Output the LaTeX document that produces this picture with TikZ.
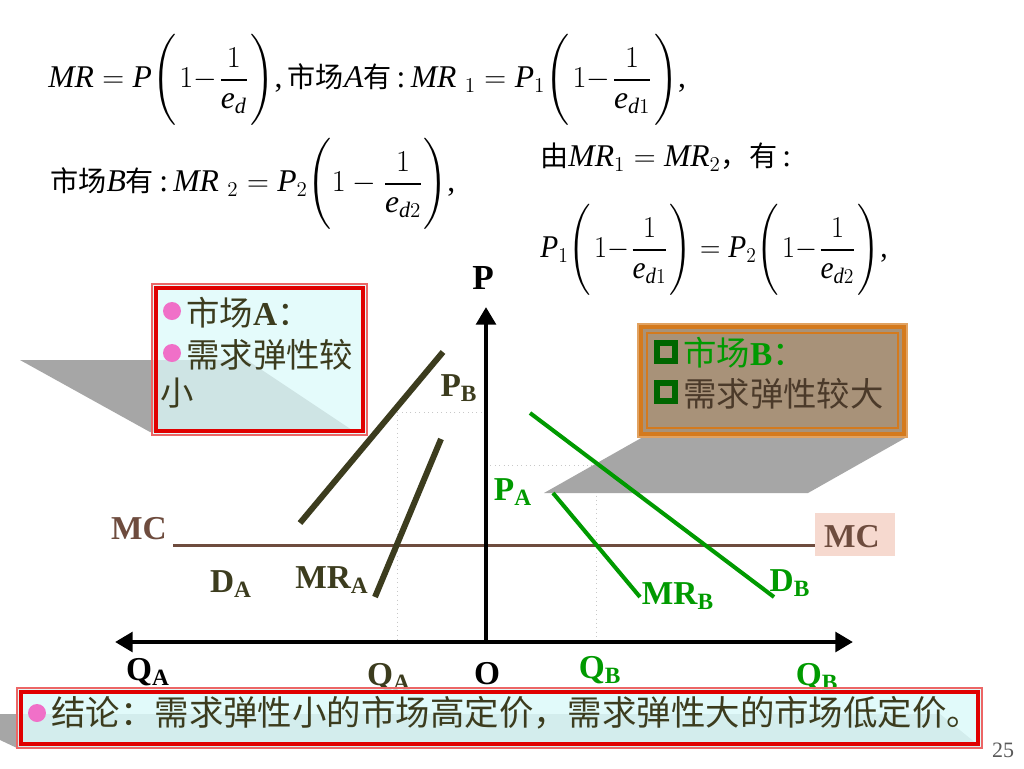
\documentclass[tikz,border=0pt]{standalone}
\usepackage{amsmath}
\usepackage{graphicx}
\usepackage{fontspec}
\setmainfont{Liberation Serif}
\newfontfamily\cjk{Noto Sans CJK SC}
\usetikzlibrary{arrows.meta}
\definecolor{darkol}{HTML}{3C3C1E}
\definecolor{grn}{HTML}{009A00}
\definecolor{dgrn}{HTML}{006600}
\definecolor{mcbrown}{HTML}{6E4C3E}
\definecolor{cyanfill}{HTML}{DCFAFA}
\definecolor{tanfill}{HTML}{A89279}
\definecolor{orangeb}{HTML}{D47A1E}
\definecolor{pinkbul}{HTML}{F070C8}
\definecolor{mcbg}{HTML}{F6D9CF}
\definecolor{shgray}{HTML}{A6A6A6}
\definecolor{boxred}{HTML}{E00000}
\definecolor{txtbrown}{HTML}{4B3A2A}
\definecolor{guidegray}{HTML}{C8C8C8}
\newcommand{\cz}[1]{{\cjk\fontsize{16}{16}\selectfont #1}}
\newcommand{\fr}[1]{\Bigg(1-\dfrac{1}{#1}\Bigg)}
\newcommand{\frt}[1]{\Bigg(\mkern2mu 1{-}\mkern1mu\dfrac{1}{#1}\mkern1mu\Bigg)}
\tikzset{
  lab/.style={font=\fontsize{19}{22}\selectfont\bfseries, inner sep=0pt},
  eqn/.style={font=\fontsize{18}{22}\selectfont, inner sep=0pt, anchor=west},
  boxtxt/.style={font=\cjk\fontsize{19}{22}\selectfont, inner sep=0pt, anchor=west},
  curveA/.style={draw=darkol, line width=3.4pt},
  curveB/.style={draw=grn, line width=2.3pt},
  guide/.style={draw=guidegray, dotted, line width=0.5pt},
  axisline/.style={line width=2.8pt, draw=black},
  bullet/.style={circle, fill=pinkbul, minimum size=0.36cm, inner sep=0pt},
  sqbullet/.style={draw=dgrn, line width=3pt, minimum size=0.36cm, inner sep=0pt},
  shadow/.style={fill=shgray, draw=none},
}
\begin{document}
\begin{tikzpicture}[x=0.02cm,y=-0.02cm]
\useasboundingbox[fill=white] (0,0) rectangle (1024,768);

% ---------- equations ----------
\node[eqn] (eq1) at (48,80) {$\mathit{MR}=\mathit{P}\frt{\mathit{e}_{\mathit{d}}}$,\,\cz{市场}$\mathit{A}$\cz{有}\,:\,$\mathit{MR}\;{}_{1}=\mathit{P}_{1}\frt{\mathit{e}_{\mathit{d}1}}$,};
\node[eqn] (eq2) at (50,184) {\cz{市场}$\mathit{B}$\cz{有}\,:\,$\mathit{MR}\;{}_{2}=\mathit{P}_{2}\fr{\mathit{e}_{\mathit{d}2}}$,};
\node[eqn] (eq3) at (540,157) {\cz{由}$\mathit{MR}_{1}=\mathit{MR}_{2}$\cz{，有}\,:};
\node[eqn] (eq4) at (540,250) {\scalebox{0.93}[1]{$\mathit{P}_{1}\frt{\mathit{e}_{\mathit{d}1}}=\mathit{P}_{2}\frt{\mathit{e}_{\mathit{d}2}}$,}};

% ---------- guides ----------
\coordinate (gA1) at (397,412);
\coordinate (gA2) at (397,642);
\coordinate (gA3) at (486,412);
\coordinate (gB1) at (596,465);
\coordinate (gB2) at (596,642);
\coordinate (gB3) at (486,465);
\draw[guide] (gA3) -- (gA1) -- (gA2);
\draw[guide] (gB3) -- (gB1) -- (gB2);

% ---------- shadows ----------
\fill[shadow] (20,360) -- (247,360) -- (355,432) -- (150,432) -- cycle;
\fill[shadow] (643,437) -- (907,437) -- (808,493) -- (544,493) -- cycle;
\fill[shadow] (-55,714) -- (940,714) -- (982,748) -- (17,748) -- cycle;

% ---------- box A ----------
\fill[cyanfill, fill opacity=0.75] (152,284) rectangle (367,435);
\draw[boxred!60, line width=0.6pt] (152,284) rectangle (367,435);
\draw[boxred, line width=2.4pt] (156,288) rectangle (363,431);
\node[bullet] (bA1) at (172,311) {};
\node[boxtxt, text=darkol] (tA1) at (186,313) {市场\textbf{\rmfamily A}：};
\node[bullet] (bA2) at (172,353) {};
\node[boxtxt, text=darkol] (tA2) at (186,355) {需求弹性较};
\node[boxtxt, text=darkol] (tA3) at (160,393) {小};

% ---------- box B ----------
\fill[tanfill] (638,324) rectangle (907,437);
\draw[orangeb!70, line width=0.6pt] (638,324) rectangle (907,437);
\draw[orangeb, line width=1.8pt] (641,327) rectangle (904,434);
\draw[orangeb, line width=0.7pt] (647,333) rectangle (898,428);
\node[sqbullet] (sB1) at (666,352) {};
\node[boxtxt, text=grn] (tB1) at (683,353) {市场\textbf{\rmfamily B}：};
\node[sqbullet] (sB2) at (666,392) {};
\node[boxtxt, text=txtbrown] (tB2) at (683,394) {需求弹性较大};

% ---------- MC ----------
\fill[mcbg] (815,513) rectangle (895,556);
\coordinate (mc1) at (173,545);
\coordinate (mc2) at (815,545);
\draw[draw=mcbrown, line width=1.7pt] (mc1) -- (mc2);
\node[lab, text=mcbrown] (MCl) at (139,529) {MC};
\node[lab, text=mcbrown] (MCr) at (852,537) {MC};

% ---------- curves ----------
\coordinate (DA1) at (443,352);
\coordinate (DA2) at (300,523);
\coordinate (MRA1) at (441,439);
\coordinate (MRA2) at (375,597);
\draw[curveA] (DA1) -- (DA2);
\draw[curveA] (MRA1) -- (MRA2);
\coordinate (DB1) at (530,413);
\coordinate (DB2) at (774,597);
\coordinate (MRB1) at (553,493);
\coordinate (MRB2) at (640,597);
\draw[curveB] (DB1) -- (DB2);
\draw[curveB] (MRB1) -- (MRB2);

% ---------- axes ----------
\coordinate (O) at (486,642);
\coordinate (Ptop) at (486,307);
\coordinate (Ql) at (115,642);
\coordinate (Qr) at (853,642);
\draw[axisline, -{Triangle[length=10pt,width=11pt]}] (O) -- (Ptop);
\draw[axisline, {Triangle[length=10pt,width=11pt]}-{Triangle[length=10pt,width=11pt]}] (Ql) -- (Qr);

% ---------- labels ----------
\node[lab, font=\fontsize{20}{22}\selectfont\bfseries] (Plab) at (483,278) {P};
\node[lab, text=darkol] (PB) at (459,388) {P\textsubscript{B}};
\node[lab, text=darkol] (DA) at (231,584) {D\textsubscript{A}};
\node[lab, text=darkol] (MRA) at (332,580) {MR\textsubscript{A}};
\node[lab, text=grn] (PA) at (513,492) {P\textsubscript{A}};
\node[lab, text=grn] (MRB) at (678,596) {MR\textsubscript{B}};
\node[lab, text=grn] (DB) at (790,583) {D\textsubscript{B}};
\node[lab] (QAl) at (148,672) {Q\textsubscript{A}};
\node[lab, text=darkol] (QAm) at (389,677) {Q\textsubscript{A}};
\node[lab] (Olab) at (487,674) {O};
\node[lab, text=grn] (QBm) at (600,670) {Q\textsubscript{B}};
\node[lab, text=grn] (QBr) at (817,677) {Q\textsubscript{B}};

% ---------- conclusion box ----------
\fill[cyanfill, fill opacity=0.85] (17,688) rectangle (982,748);
\draw[boxred!60, line width=0.6pt] (17,688) rectangle (982,748);
\draw[boxred, line width=2.4pt] (21,692) rectangle (978,744);
\node[bullet] (bC) at (37,713) {};
\node[boxtxt, text=darkol, font=\cjk\fontsize{19.6}{22}\selectfont] (tC) at (51,713) {结论：需求弹性小的市场高定价，需求弹性大的市场低定价。};

\node[inner sep=0pt, text=black!65, font=\fontsize{12.5}{14}\selectfont] (pg) at (1003,750) {25};
\end{tikzpicture}
\end{document}
